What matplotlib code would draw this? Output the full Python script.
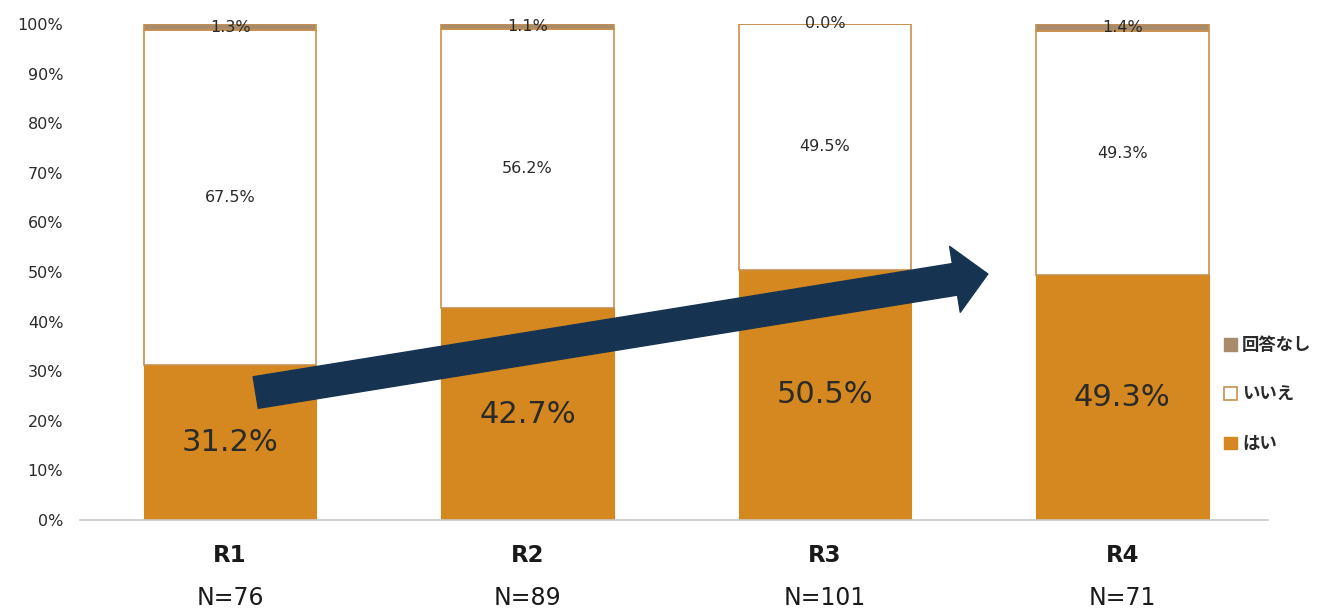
import matplotlib
matplotlib.use("Agg")
import matplotlib.pyplot as plt
from matplotlib.patches import FancyArrowPatch, Patch
import matplotlib.transforms as mtransforms
import numpy as np

plt.rcParams['font.family'] = ['DejaVu Sans', 'Noto Sans CJK JP']

rounds = ["R1", "R2", "R3", "R4"]
respondents = [76, 89, 101, 71]
yes_pct = [31.2, 42.7, 50.5, 49.3]
no_pct = [67.5, 56.2, 49.5, 49.3]
blank_pct = [1.3, 1.1, 0.0, 1.4]
series_names = ["はい", "いいえ", "回答なし"]
ytick_vals = list(range(0, 101, 10))

c_yes = "#D5881F"
c_edge = "#C99050"
c_blank = "#A88B6A"
c_arrow = "#163452"
c_text = "#2a2a2a"

fig = plt.figure(figsize=(13.35, 6.12), dpi=100)
ax = fig.add_axes([0.0599, 0.1503, 0.8899, 0.8105])

x = np.arange(len(rounds))
width = 0.58
yes = np.array(yes_pct)
no = np.array(no_pct)
blank = np.array(blank_pct)

ax.bar(x, yes, width, color=c_yes, edgecolor=c_yes, linewidth=0.8, zorder=2)
ax.bar(x, no, width, bottom=yes, color="white", edgecolor=c_edge, linewidth=1.2, zorder=2)
ax.bar(x, blank, width, bottom=yes + no, color=c_blank, edgecolor=c_edge, linewidth=1.2, zorder=2)

for i in range(len(rounds)):
    ax.text(x[i], yes[i] / 2, f"{yes[i]:.1f}%", ha="center", va="center",
            fontsize=22, color=c_text, zorder=5)
    ax.text(x[i], yes[i] + no[i] / 2, f"{no[i]:.1f}%", ha="center", va="center",
            fontsize=11.5, color=c_text, zorder=5)
    ax.text(x[i], yes[i] + no[i] + blank[i] / 2, f"{blank[i]:.1f}%", ha="center",
            va="center", fontsize=11.5, color=c_text, zorder=5)

ax.set_xlim(-0.505, 3.49)
ax.set_ylim(0, 100)
ax.set_yticks(ytick_vals)
ax.set_yticklabels([f"{v}%" for v in ytick_vals], fontsize=11.5, color=c_text)
ax.tick_params(axis="y", length=0, pad=12)
ax.tick_params(axis="x", length=0)
ax.set_xticks(x)
ax.set_xticklabels([])
for side in ["top", "right", "left"]:
    ax.spines[side].set_visible(False)
ax.spines["bottom"].set_color("#c8c8c8")
ax.spines["bottom"].set_linewidth(1.2)

trans = mtransforms.blended_transform_factory(ax.transData, ax.transAxes)
for i in range(len(rounds)):
    ax.text(x[i], -0.072, rounds[i], transform=trans, ha="center", va="center",
            fontsize=16.5, fontweight="bold", color="#1a1a1a")
    ax.text(x[i], -0.158, f"N={respondents[i]}", transform=trans, ha="center",
            va="center", fontsize=17, color="#1a1a1a")

# upward trend arrow across the rounds
arrow = FancyArrowPatch((0.086, 25.7), (2.548, 49.6),
                        arrowstyle="simple,head_length=24,head_width=48,tail_width=23",
                        mutation_scale=1, color=c_arrow, zorder=6,
                        shrinkA=0, shrinkB=0)
ax.add_patch(arrow)

handles = [Patch(facecolor=c_blank, edgecolor=c_blank),
           Patch(facecolor="white", edgecolor=c_edge, linewidth=1.2),
           Patch(facecolor=c_yes, edgecolor=c_yes)]
leg = fig.legend(handles, [series_names[2], series_names[1], series_names[0]],
                 loc="center left", bbox_to_anchor=(0.905, 0.355), frameon=False,
                 prop={"size": 12.5, "weight": "bold"},
                 handlelength=0.75, handleheight=0.75,
                 handletextpad=0.3, labelspacing=1.8)
for t in leg.get_texts():
    t.set_color(c_text)

fig.savefig("out.png", dpi=100, facecolor="white")
